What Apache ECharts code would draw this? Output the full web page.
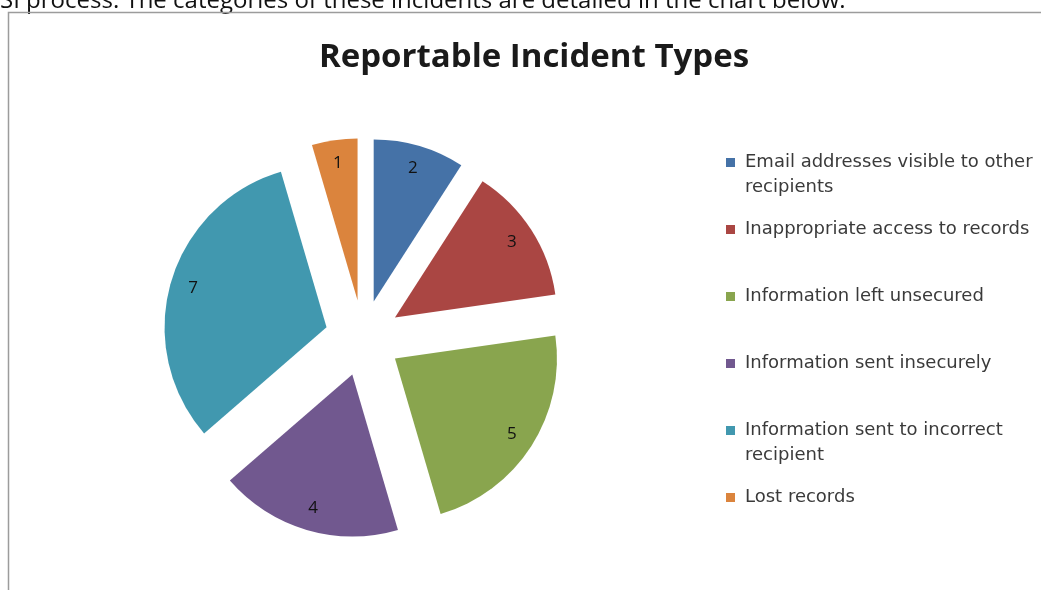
<!DOCTYPE html>
<html>
<head>
<meta charset="utf-8">
<script src="https://cdn.jsdelivr.net/npm/echarts@6/dist/echarts.min.js"></script>
<style>
  html, body { margin: 0; padding: 0; background: #ffffff; }
  #chart { width: 1041px; height: 590px; }
</style>
</head>
<body>
<div id="chart"></div>
<script>
// Incident categories, in drawing order (clockwise from 12 o'clock)
const categories = [
  'Email addresses visible to other recipients',
  'Inappropriate access to records',
  'Information left unsecured',
  'Information sent insecurely',
  'Information sent to incorrect recipient',
  'Lost records'
];
// Legend text with the same line breaks as the printed key
const legendLines = [
  ['Email addresses visible to other', 'recipients'],
  ['Inappropriate access to records'],
  ['Information left unsecured'],
  ['Information sent insecurely'],
  ['Information sent to incorrect', 'recipient'],
  ['Lost records']
];
const incidentCounts = [2, 3, 5, 4, 7, 1];
const sliceColors = ['#4572A7', '#AA4643', '#89A54E', '#71588F', '#4198AF', '#DB843D'];

const titleText = 'Reportable Incident Types';
const introText = 'SI process. The categories of these incidents are detailed in the chart below.';

const FONT = '"Open Sans", "Liberation Sans", sans-serif';
const KEY_FONT = '"DejaVu Sans", "Open Sans", sans-serif';

const pieData = categories.map((name, i) => ({
  name: name,
  value: incidentCounts[i],
  selected: true,
  itemStyle: { color: sliceColors[i] }
}));

// Each key entry is laid out as three lines with the icon centred on the
// second one, so the swatch sits beside the first line of wrapped names.
const legendText = {};
categories.forEach((name, i) => {
  const lines = legendLines[i];
  legendText[name] = '\n' + lines[0] + '\n' + (lines[1] || '');
});

const chart = echarts.init(document.getElementById('chart'), null, { renderer: 'canvas' });

const commonPie = {
  type: 'pie',
  center: [363, 338],
  startAngle: 90,
  clockwise: true,
  selectedMode: 'multiple',
  selectedOffset: 38,
  avoidLabelOverlap: false,
  emphasis: { disabled: true },
  animation: false
};

chart.setOption({
  backgroundColor: '#ffffff',
  animation: false,
  title: {
    text: titleText,
    left: 529,
    textAlign: 'center',
    top: 36,
    textStyle: { fontFamily: FONT, fontWeight: 'bold', fontSize: 33, color: '#1a1a1a' }
  },
  legend: {
    orient: 'vertical',
    left: 721,
    top: 120,
    itemWidth: 9,
    itemHeight: 9,
    itemGap: -8,
    icon: 'rect',
    selectedMode: false,
    data: categories,
    formatter: name => legendText[name],
    textStyle: {
      fontFamily: KEY_FONT,
      fontSize: 18,
      color: '#3a3a3a',
      lineHeight: 25,
      padding: [0, 0, 0, 5]
    }
  },
  graphic: [
    {
      type: 'text',
      left: 0,
      top: -11,
      style: { text: introText, font: '24px ' + FONT, fill: '#111111' },
      silent: true
    },
    {
      type: 'polyline',
      shape: { points: [[8.5, 590], [8.5, 12.5], [1041, 12.5]] },
      style: { stroke: '#9c9c9c', lineWidth: 1.5, fill: null },
      silent: true
    }
  ],
  series: [
    Object.assign({}, commonPie, {
      name: 'slices',
      radius: 162,
      label: { show: false },
      labelLine: { show: false },
      data: pieData
    }),
    // Value labels placed near the outer part of each exploded slice
    Object.assign({}, commonPie, {
      name: 'values',
      radius: [110, 162],
      silent: true,
      itemStyle: { color: 'rgba(0,0,0,0)' },
      select: { itemStyle: { color: 'rgba(0,0,0,0)', borderWidth: 0 } },
      label: {
        show: true,
        position: 'inside',
        formatter: '{c}',
        fontFamily: FONT,
        fontSize: 17,
        color: '#111111'
      },
      labelLine: { show: false },
      data: categories.map((name, i) => ({
        name: name,
        value: incidentCounts[i],
        selected: true,
        itemStyle: { color: 'rgba(0,0,0,0)' }
      }))
    })
  ]
});
</script>
</body>
</html>
